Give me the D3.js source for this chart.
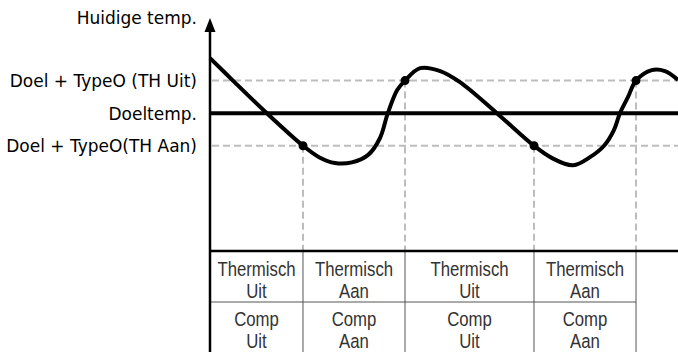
<!DOCTYPE html>
<html><head><meta charset="utf-8">
<script src="https://cdn.jsdelivr.net/npm/d3@7"></script>
<style>body{margin:0;background:#fff}svg{display:block}</style>
</head><body>
<script>
// time (0..100) and temperature relative to target (Doel = 0, TH Uit = +1, TH Aan = -1)
const curveT = [0, 4.9, 11.75, 19.87, 23.3, 26.7, 30.3, 33.8, 36.3, 38.0, 40.0, 41.67, 44.9, 49.2, 53.4, 61.3, 69.23, 73.1, 77.6, 81.2, 84.2, 86.3, 87.6, 89.3, 91.03, 94.4, 97.2, 100];
const curveV = [1.69, 1.0, 0.05, -1.0, -1.35, -1.53, -1.51, -1.28, -0.77, 0.0, 0.71, 1.0, 1.38, 1.29, 0.95, 0.0, -1.0, -1.38, -1.6, -1.35, -1.0, -0.52, 0.0, 0.49, 1.0, 1.32, 1.29, 1.02];
const levelNames = ["Doel + TypeO (TH Uit)", "Doeltemp.", "Doel + TypeO(TH Aan)"];
const levelValues = [1, 0, -1];
const switchT = [19.87, 41.67, 69.23, 91.03];
const switchV = [-1, 1, -1, 1];
const rowThermisch = ["Uit", "Aan", "Uit", "Aan"];
const rowComp = ["Uit", "Aan", "Uit", "Aan"];
const yTitle = "Huidige temp.";

const W = 678, H = 352;
const svg = d3.select("body").append("svg").attr("width", W).attr("height", H);
const x = d3.scaleLinear().domain([0, 100]).range([210, 678]);
const y = d3.scaleLinear().domain([-4.23, 2.92]).range([251, 18]);
const x0 = x(0), yb = y(-4.23);

// dashed threshold lines
[1, -1].forEach(v => {
  svg.append("line").attr("x1", x0 + 2).attr("x2", W).attr("y1", y(v)).attr("y2", y(v))
    .attr("stroke", "#bdbdbd").attr("stroke-width", 2).attr("stroke-dasharray", "7,4");
});
// vertical dashed lines
switchT.forEach((t, i) => {
  svg.append("line").attr("x1", x(t)).attr("x2", x(t)).attr("y1", y(switchV[i])).attr("y2", yb)
    .attr("stroke", "#bdbdbd").attr("stroke-width", 2).attr("stroke-dasharray", "7,4");
});
// target line
svg.append("line").attr("x1", x0).attr("x2", W).attr("y1", y(0)).attr("y2", y(0))
  .attr("stroke", "#000").attr("stroke-width", 4);

// table
const bounds = [0, ...switchT];
const rowY = [252, 302, 352];
const tg = svg.append("g");
tg.append("line").attr("x1", x0).attr("x2", x(switchT[3])).attr("y1", rowY[1]).attr("y2", rowY[1]).attr("stroke", "#555").attr("stroke-width", 1);
switchT.forEach(t => {
  tg.append("line").attr("x1", x(t)).attr("x2", x(t)).attr("y1", rowY[0]).attr("y2", H).attr("stroke", "#555").attr("stroke-width", 1);
});
for (let i = 0; i < 4; i++) {
  const cx = (x(bounds[i]) + x(bounds[i + 1])) / 2;
  const lines = [["Thermisch", 276], [rowThermisch[i], 297.5], ["Comp", 326], [rowComp[i], 347.5]];
  lines.forEach(([s, by]) => {
    tg.append("text").attr("transform", `translate(${cx},${by}) scale(0.86,1)`).attr("text-anchor", "middle")
      .attr("font-family", "'Liberation Sans', Arial, sans-serif").attr("font-size", 19.5)
      .attr("fill", "#333").text(s);
  });
}

// axes
svg.append("line").attr("x1", x0).attr("x2", x0).attr("y1", 30).attr("y2", H).attr("stroke", "#000").attr("stroke-width", 2.5);
svg.append("line").attr("x1", x0).attr("x2", W).attr("y1", yb).attr("y2", yb).attr("stroke", "#000").attr("stroke-width", 2.5);
svg.append("path").attr("d", `M${x0},${y(2.92)}L${x0 - 5.5},${y(2.92) + 14}L${x0 + 5.5},${y(2.92) + 14}Z`).attr("fill", "#000");

// curve
const pts = curveT.map((t, i) => [x(t), y(curveV[i])]);
svg.append("path").attr("d", d3.line().curve(d3.curveCatmullRom.alpha(0.5))(pts))
  .attr("fill", "none").attr("stroke", "#000").attr("stroke-width", 4).attr("stroke-linejoin", "round");
switchT.forEach((t, i) => {
  svg.append("circle").attr("cx", x(t)).attr("cy", y(switchV[i])).attr("r", 4.5).attr("fill", "#000");
});

// labels
const lf = "'DejaVu Sans', sans-serif";
svg.append("text").attr("x", 197).attr("y", 24).attr("text-anchor", "end").attr("font-family", lf).attr("font-size", 17).attr("fill", "#000").text(yTitle);
levelNames.forEach((n, i) => {
  svg.append("text").attr("x", 197).attr("y", y(levelValues[i]) + 6.5).attr("text-anchor", "end")
    .attr("font-family", lf).attr("font-size", 17).attr("fill", "#000").text(n);
});
</script>
</body></html>
